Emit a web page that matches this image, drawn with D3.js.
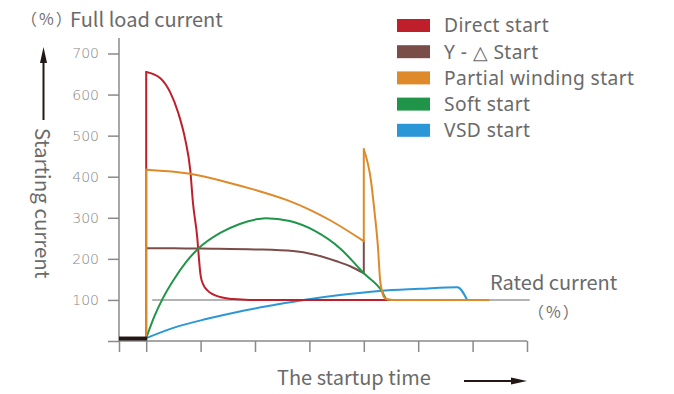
<!DOCTYPE html>
<html>
<head>
<meta charset="utf-8">
<script src="https://cdn.jsdelivr.net/npm/d3@7"></script>
<style>
  html, body { margin: 0; padding: 0; background: #fff; }
  svg text { font-family: "Noto Sans CJK SC", "Noto Sans", sans-serif; }
</style>
</head>
<body>
<div id="chart"></div>
<script>
// ---- data (time in arbitrary steps, current in % of full load) ----
var seriesNames = ["Direct start", "Y - \u25B3 Start", "Partial winding start", "Soft start", "VSD start"];
var seriesColors = ["#bf1f2b", "#7a4d49", "#df8a2a", "#20954a", "#2b97d6"];

var directT = [0, 0, 0.26, 0.44, 0.59, 0.72, 0.81, 0.86, 0.94, 0.97, 1.0, 1.05, 1.12, 1.36, 1.6, 1.9, 4.5];
var directV = [6, 655, 640, 606, 555, 489, 416, 336, 250, 200, 160, 137, 124, 107, 102, 100, 100];

var starT = [0, 0.5, 1.0, 2.0, 2.7, 3.1, 3.5, 3.75, 4.0, 4.0];
var starV = [226, 226, 225, 223, 219, 210, 194, 182, 165, 243];

var partialT = [0, 0, 0.81, 1.5, 2.0, 2.59, 3.0, 3.38, 4.0, 4.0, 4.13, 4.2, 4.26, 4.3, 4.33, 4.37, 4.44, 4.55, 6.31];
var partialV = [6, 417, 407, 386, 368, 343, 320, 294, 243, 467, 392, 311, 229, 148, 124, 107, 101, 100, 100];

var softT = [0, 0.15, 0.31, 0.5, 0.75, 0.95, 1.36, 1.72, 2.06, 2.2, 2.64, 3.1, 3.56, 4.0, 4.33, 4.42, 4.5];
var softV = [7, 60, 105, 148, 195, 224, 263, 285, 297, 299, 292, 268, 226, 165, 122, 102, 100];

var vsdT = [0, 0.5, 1.12, 1.72, 2.33, 2.95, 3.56, 4.29, 5.03, 5.72, 5.9];
var vsdV = [7, 32, 54, 72, 87, 101, 112, 122, 127, 131, 100];

var standbyT = [-0.5, 0];
var standbyV = [6, 6];

var ratedT = [0.11, 7.05];
var ratedV = [100, 100];

var yTicks = [0, 100, 200, 300, 400, 500, 600, 700];
var xTicks = [-0.5, 0, 1, 2, 3, 4, 5, 6, 7];

var w = 674, h = 394;

var svg = d3.select("#chart").append("svg")
    .attr("width", w)
    .attr("height", h);

var x = d3.scaleLinear().domain([-0.5, 7]).range([119, 527]);
var y = d3.scaleLinear().domain([0, 700]).range([341, 53.5]);

var axisColor = "#8a8a8a";

// y axis
var yAxis = svg.append("g")
    .attr("transform", "translate(119,0)")
    .call(d3.axisLeft(y).tickValues(yTicks).tickSize(11).tickPadding(9)
        .tickFormat(function(d) { return d === 0 ? "" : d; }));
yAxis.select(".domain").remove();
yAxis.selectAll("line").attr("stroke", axisColor).attr("stroke-width", 1.5);
yAxis.selectAll("text")
    .style("font-family", "DejaVu Sans")
    .style("font-weight", 200)
    .style("font-size", "14px")
    .attr("fill", "#858585");

// x axis
var xAxis = svg.append("g")
    .attr("transform", "translate(0,341)")
    .call(d3.axisBottom(x).tickValues(xTicks).tickSize(11).tickFormat(""));
xAxis.select(".domain").remove();
xAxis.selectAll("line").attr("stroke", axisColor).attr("stroke-width", 1.5);

svg.append("line")
    .attr("x1", 119).attr("x2", 119).attr("y1", 38).attr("y2", 341)
    .attr("stroke", axisColor).attr("stroke-width", 1.5);
svg.append("line")
    .attr("x1", 119).attr("x2", x(7)).attr("y1", 341).attr("y2", 341)
    .attr("stroke", axisColor).attr("stroke-width", 1.5);

// rated current line
svg.append("line")
    .attr("x1", x(ratedT[0])).attr("x2", x(ratedT[1]))
    .attr("y1", y(ratedV[0])).attr("y2", y(ratedV[1]))
    .attr("stroke", "#9a9a9a").attr("stroke-width", 1.5);

// split a series into smooth runs, jumps at repeated t are straight
function drawSeries(ts, vs, color, width) {
    var pts = ts.map(function(t, i) { return [t, vs[i]]; });
    var runs = [[pts[0]]];
    for (var i = 1; i < pts.length; i++) {
        if (pts[i][0] === pts[i - 1][0]) {
            runs.push([pts[i]]);
        } else {
            runs[runs.length - 1].push(pts[i]);
        }
    }
    var smooth = d3.line()
        .x(function(d) { return x(d[0]); })
        .y(function(d) { return y(d[1]); })
        .curve(d3.curveMonotoneX);
    var straight = d3.line()
        .x(function(d) { return x(d[0]); })
        .y(function(d) { return y(d[1]); });
    var g = svg.append("g");
    runs.forEach(function(run, k) {
        if (k > 0) {
            var prev = runs[k - 1];
            g.append("path")
                .attr("d", straight([prev[prev.length - 1], run[0]]))
                .attr("fill", "none").attr("stroke", color).attr("stroke-width", width)
                .attr("stroke-linecap", "square");
        }
        if (run.length > 1) {
            g.append("path")
                .attr("d", smooth(run))
                .attr("fill", "none").attr("stroke", color).attr("stroke-width", width)
                .attr("stroke-linejoin", "round");
        }
    });
}

drawSeries(vsdT, vsdV, seriesColors[4], 2);
drawSeries(directT, directV, seriesColors[0], 2);
drawSeries(starT, starV, seriesColors[1], 2);
drawSeries(softT, softV, seriesColors[3], 2);
drawSeries(partialT, partialV, seriesColors[2], 2);

// standby bar
svg.append("line")
    .attr("x1", x(standbyT[0])).attr("x2", x(standbyT[1]) + 1)
    .attr("y1", y(standbyV[0])).attr("y2", y(standbyV[1]))
    .attr("stroke", "#231815").attr("stroke-width", 4);

// titles
svg.append("text").attr("x", 21).attr("y", 25)
    .style("font-size", "16px").style("letter-spacing", "2px")
    .attr("fill", "#707070").text("\uFF08%\uFF09");
svg.append("text").attr("x", 70).attr("y", 27)
    .style("font-size", "20px").attr("fill", "#6a6a6a").text("Full load current");

svg.append("text")
    .attr("transform", "translate(35,128) rotate(90)")
    .style("font-size", "20.5px").attr("fill", "#6a6a6a").text("Starting current");

svg.append("text").attr("x", 277).attr("y", 385)
    .style("font-size", "20px").attr("fill", "#6a6a6a").text("The startup time");

svg.append("text").attr("x", 490).attr("y", 290)
    .style("font-size", "20px").attr("fill", "#6a6a6a").text("Rated current");
svg.append("text").attr("x", 528).attr("y", 318)
    .style("font-size", "16px").style("letter-spacing", "2px")
    .attr("fill", "#707070").text("\uFF08%\uFF09");

// arrows
svg.append("line").attr("x1", 43.5).attr("x2", 43.5).attr("y1", 120).attr("y2", 60)
    .attr("stroke", "#231815").attr("stroke-width", 2);
svg.append("path").attr("d", "M43.5,47 L40,63 L47,63 Z").attr("fill", "#231815");
svg.append("line").attr("x1", 464).attr("x2", 515).attr("y1", 381).attr("y2", 381)
    .attr("stroke", "#231815").attr("stroke-width", 2);
svg.append("path").attr("d", "M527,381 L511,377.5 L511,384.5 Z").attr("fill", "#231815");

// legend (Noto Sans: tighter line box so rows do not collide)
var legend = svg.append("g");
seriesNames.forEach(function(name, i) {
    var cy = 25.5 + i * 26.2;
    legend.append("rect")
        .attr("x", 397).attr("y", cy - 6.5).attr("width", 33).attr("height", 13)
        .attr("fill", seriesColors[i]);
    legend.append("text")
        .attr("x", 444).attr("y", cy + 6.8)
        .style("font-family", "'Noto Sans', sans-serif")
        .style("font-size", "19.2px").style("letter-spacing", "0.4px")
        .attr("fill", "#6a6a6a").text(name);
});
</script>
</body>
</html>
